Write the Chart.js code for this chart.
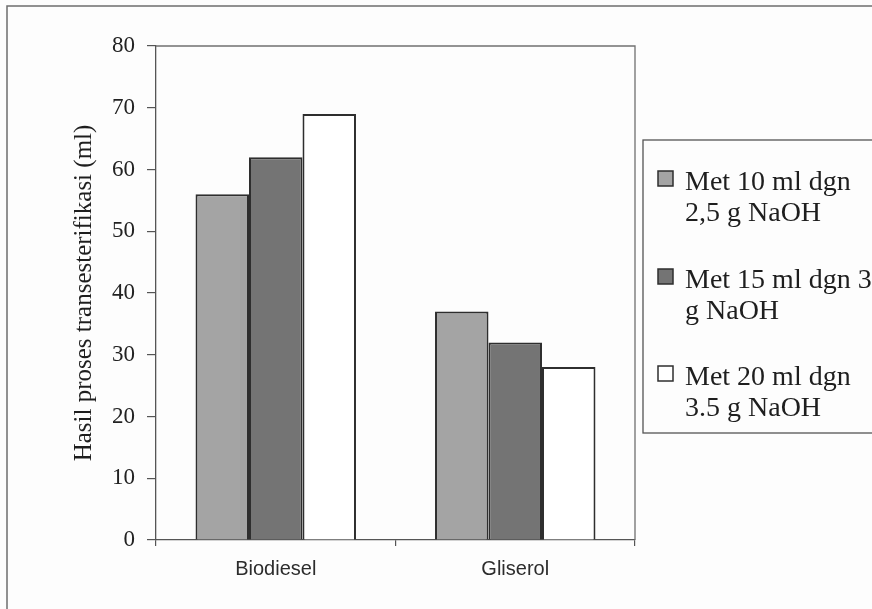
<!DOCTYPE html>
<html>
<head>
<meta charset="utf-8">
<script src="https://cdn.jsdelivr.net/npm/chart.js@4/dist/chart.umd.min.js"></script>
<style>
  html, body { margin: 0; padding: 0; background: #fdfdfd; }
  canvas { display: block; }
</style>
</head>
<body>
<canvas id="c" width="872" height="609"></canvas>
<script>
// Hasil proses transesterifikasi: volume biodiesel dan gliserol per variasi metanol/NaOH
const categories = ['Biodiesel', 'Gliserol'];
const met10 = [56, 37];
const met15 = [62, 32];
const met20 = [69, 28];
const seriesLabels = [
  ['Met 10 ml dgn', '2,5 g NaOH'],
  ['Met 15 ml dgn 3', 'g NaOH'],
  ['Met 20 ml dgn', '3.5 g NaOH']
];
const yTicks = [0, 10, 20, 30, 40, 50, 60, 70, 80];

const fills = ['#a4a4a4', '#747474', '#ffffff'];
const edge = '#2e2e2e';
const serif = '"Liberation Serif", "Times New Roman", serif';
const sans = '"Liberation Sans", Arial, sans-serif';

// outer frame, top/right plot border, and the wrapped legend box
const framePlugin = {
  id: 'frame',
  beforeDraw(chart) {
    const ctx = chart.ctx;
    ctx.save();
    ctx.fillStyle = '#fdfdfd';
    ctx.fillRect(0, 0, chart.width, chart.height);
    ctx.strokeStyle = '#6e6e6e';
    ctx.lineWidth = 1.5;
    ctx.strokeRect(7, 6, chart.width + 20, chart.height + 20);
    ctx.restore();
  },
  afterDraw(chart) {
    const ctx = chart.ctx;
    const a = chart.chartArea;
    ctx.save();
    ctx.strokeStyle = '#707070';
    ctx.lineWidth = 1.3;
    ctx.beginPath();
    ctx.moveTo(a.left, a.top);
    ctx.lineTo(a.right, a.top);
    ctx.lineTo(a.right, a.bottom);
    ctx.stroke();

    // legend
    const bx = 643, by = 140, bh = 293;
    ctx.strokeStyle = '#555555';
    ctx.lineWidth = 1.3;
    ctx.strokeRect(bx, by, chart.width - bx + 20, bh);
    ctx.font = '28px ' + serif;
    ctx.textBaseline = 'middle';
    ctx.textAlign = 'left';
    const itemTop = [183, 281, 378];
    chart.data.datasets.forEach((ds, i) => {
      const y0 = itemTop[i];
      ctx.fillStyle = ds.backgroundColor;
      ctx.fillRect(658, y0 - 12, 15, 15);
      ctx.strokeStyle = edge;
      ctx.lineWidth = 1.5;
      ctx.strokeRect(658, y0 - 12, 15, 15);
      ctx.fillStyle = '#1e1e1e';
      seriesLabels[i].forEach((line, j) => {
        ctx.fillText(line, 685, y0 + j * 31);
      });
    });
    ctx.restore();
  }
};

new Chart(document.getElementById('c'), {
  type: 'bar',
  data: {
    labels: categories,
    datasets: [
      { label: seriesLabels[0].join(' '), data: met10, backgroundColor: fills[0] },
      { label: seriesLabels[1].join(' '), data: met15, backgroundColor: fills[1] },
      { label: seriesLabels[2].join(' '), data: met20, backgroundColor: fills[2] }
    ].map(d => Object.assign(d, {
      borderColor: edge,
      borderWidth: 2,
      categoryPercentage: 0.67,
      barPercentage: 1.0
    }))
  },
  options: {
    responsive: false,
    animation: false,
    layout: { padding: { left: 0, top: 46, right: 237, bottom: 0 } },
    plugins: {
      legend: { display: false },
      tooltip: { enabled: false }
    },
    scales: {
      x: {
        grid: {
          display: true,
          offset: true,
          drawOnChartArea: false,
          drawTicks: true,
          tickLength: 6,
          color: '#555555',
          lineWidth: 1.2
        },
        border: { display: true, color: '#555555', width: 1.3 },
        ticks: {
          padding: 11,
          color: '#2c2c2c',
          font: { family: sans, size: 20 }
        },
        afterFit(scale) { scale.height = 69; }
      },
      y: {
        min: 0,
        max: 80,
        afterBuildTicks(scale) { scale.ticks = yTicks.map(v => ({ value: v })); },
        grid: {
          display: true,
          drawOnChartArea: false,
          drawTicks: true,
          tickLength: 9,
          color: '#555555',
          lineWidth: 1.2
        },
        border: { display: true, color: '#555555', width: 1.3 },
        ticks: {
          padding: 12,
          color: '#222222',
          font: { family: serif, size: 23 }
        },
        title: {
          display: true,
          text: 'Hasil proses transesterifikasi (ml)',
          color: '#1e1e1e',
          font: { family: serif, size: 25 },
          padding: { top: 69, bottom: 0 }
        },
        afterFit(scale) { scale.width = 156; }
      }
    }
  },
  plugins: [framePlugin]
});
</script>
</body>
</html>
